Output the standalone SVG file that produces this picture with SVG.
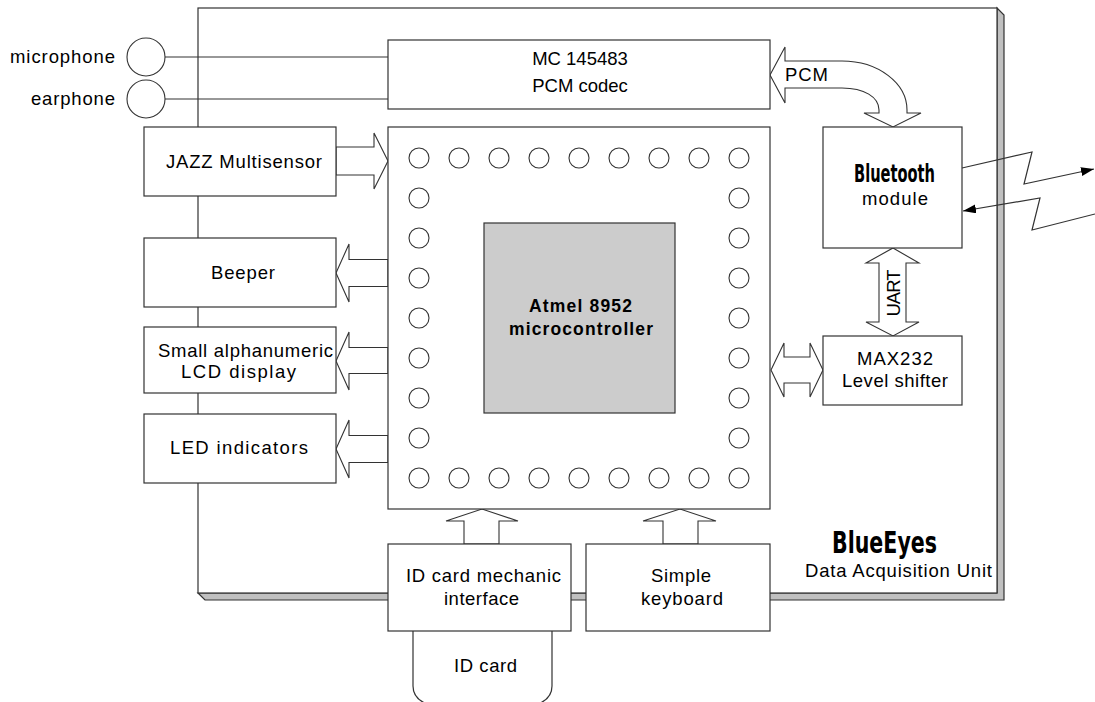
<svg xmlns="http://www.w3.org/2000/svg" width="1095" height="702" viewBox="0 0 1095 702">
<style>
.ln{fill:none;stroke:#333;stroke-width:1.2}
.bx{fill:#fff;stroke:#333;stroke-width:1.2}
.ar{fill:#fff;stroke:#333;stroke-width:1.1;stroke-linejoin:miter}
.pin{fill:#fff;stroke:#333;stroke-width:1.1}
.t{font-family:"Liberation Sans",Arial,sans-serif;font-size:18.5px;fill:#000}
.tb{font-family:"Liberation Sans",Arial,sans-serif;font-size:17.5px;font-weight:bold;fill:#000}
.imp{font-family:"DejaVu Sans Condensed","DejaVu Sans",sans-serif;font-weight:bold;fill:#000}
</style>
<defs>
<marker id="ah" markerUnits="userSpaceOnUse" markerWidth="14" markerHeight="10" refX="13" refY="4.5" orient="auto">
<path d="M0,0 L13,4.5 L0,9 z" fill="#000"/>
</marker>
</defs>
<rect width="1095" height="702" fill="#fff"/>

<g id="board">
<polygon points="997,8 1004,15 1004,600 205,600 198,593 997,593" fill="#c0c0c0" stroke="#333" stroke-width="1.2"/>
<rect x="198" y="8" width="799" height="585" class="bx"/>
<text class="imp" x="832" y="553" font-size="30" textLength="105" lengthAdjust="spacingAndGlyphs">BlueEyes</text>
<text class="t" x="805" y="577" textLength="187">Data Acquisition Unit</text>
</g>

<g id="connectors">
<line x1="165" y1="57" x2="388" y2="57" class="ln"/>
<line x1="165" y1="99" x2="388" y2="99" class="ln"/>
<polygon class="ar" points="336,147 374,147 374,133 388,161 374,189 374,175 336,175"/>
<polygon class="ar" points="388,259.5 349,259.5 349,244 336,273 349,302 349,286.5 388,286.5"/>
<polygon class="ar" points="388,347.5 349,347.5 349,332 336,361 349,390 349,373.5 388,373.5"/>
<polygon class="ar" points="388,435.5 349,435.5 349,420 336,449 349,478 349,462.5 388,462.5"/>
<polygon class="ar" points="464,544 464,521 446,521 482,509 518,521 499,521 499,544"/>
<polygon class="ar" points="663,544 663,521 643,521 680,509 716,521 698,521 698,544"/>
<polygon class="ar" points="893,248 919,263 906,263 906,322 919,322 893,336 866,322 879,322 879,263 866,263"/>
<polygon class="ar" points="771,370 784,343 784,357 810,357 810,343 823,370 810,397 810,383 784,383 784,397"/>
<path class="ar" d="M770,75 L785,47 L785,61 L842,61 C878,61 907,83 907,110 L907,113 L921,113 L893,127 L864,113 L879,113 L879,110 C879,97 864,88 842,88 L785,88 L785,103 Z"/>
<text class="t" x="785" y="81" textLength="43">PCM</text>
<text class="t" x="900" y="293" text-anchor="middle" transform="rotate(-90 900 293)" textLength="47">UART</text>
<polyline class="ln" points="962,168 1032,152 1024,184 1094,169" marker-end="url(#ah)"/>
<polyline class="ln" points="1095,214 1032,230 1040,198 963,211" marker-end="url(#ah)"/>
</g>

<g id="microphone">
<circle cx="146" cy="57" r="19" class="pin"/>
<text class="t" x="10" y="63" textLength="105">microphone</text>
</g>
<g id="earphone">
<circle cx="146" cy="99" r="19" class="pin"/>
<text class="t" x="31" y="105" textLength="84">earphone</text>
</g>

<g id="codec">
<rect x="388" y="40" width="382" height="69" class="bx"/>
<text class="t" x="580" y="65" text-anchor="middle" font-size="19.5">MC 145483</text>
<text class="t" x="580" y="92" text-anchor="middle" font-size="19">PCM codec</text>
</g>

<g id="jazz">
<rect x="144" y="127" width="192" height="69" class="bx"/>
<text class="t" x="166" y="168" textLength="156">JAZZ Multisensor</text>
</g>
<g id="beeper">
<rect x="144" y="238" width="192" height="69" class="bx"/>
<text class="t" x="211" y="279" textLength="64">Beeper</text>
</g>
<g id="lcd">
<rect x="144" y="327" width="192" height="66" class="bx"/>
<text class="t" x="158" y="357" textLength="175">Small alphanumeric</text>
<text class="t" x="181" y="378" textLength="115">LCD display</text>
</g>
<g id="led">
<rect x="144" y="414" width="192" height="69" class="bx"/>
<text class="t" x="170" y="454" textLength="138">LED indicators</text>
</g>

<g id="mcu">
<rect x="388" y="127" width="382" height="382" class="bx"/>
<g class="pin">
<circle cx="419" cy="158" r="10"/><circle cx="459" cy="158" r="10"/><circle cx="499" cy="158" r="10"/><circle cx="539" cy="158" r="10"/><circle cx="579" cy="158" r="10"/><circle cx="619" cy="158" r="10"/><circle cx="659" cy="158" r="10"/><circle cx="699" cy="158" r="10"/><circle cx="739" cy="158" r="10"/>
<circle cx="419" cy="478" r="10"/><circle cx="459" cy="478" r="10"/><circle cx="499" cy="478" r="10"/><circle cx="539" cy="478" r="10"/><circle cx="579" cy="478" r="10"/><circle cx="619" cy="478" r="10"/><circle cx="659" cy="478" r="10"/><circle cx="699" cy="478" r="10"/><circle cx="739" cy="478" r="10"/>
<circle cx="419" cy="198" r="10"/><circle cx="419" cy="238" r="10"/><circle cx="419" cy="278" r="10"/><circle cx="419" cy="318" r="10"/><circle cx="419" cy="358" r="10"/><circle cx="419" cy="398" r="10"/><circle cx="419" cy="438" r="10"/>
<circle cx="739" cy="198" r="10"/><circle cx="739" cy="238" r="10"/><circle cx="739" cy="278" r="10"/><circle cx="739" cy="318" r="10"/><circle cx="739" cy="358" r="10"/><circle cx="739" cy="398" r="10"/><circle cx="739" cy="438" r="10"/>
</g>
<rect x="484" y="223" width="191" height="190" fill="#cccccc" stroke="#333" stroke-width="1.2"/>
<text class="tb" x="529" y="312" textLength="103">Atmel 8952</text>
<text class="tb" x="509" y="335" textLength="144">microcontroller</text>
</g>

<g id="bluetooth">
<rect x="823" y="127" width="139" height="121" class="bx"/>
<text class="imp" x="854" y="182" font-size="25" textLength="81" lengthAdjust="spacingAndGlyphs">Bluetooth</text>
<text class="t" x="862" y="205" textLength="66">module</text>
</g>

<g id="max232">
<rect x="823" y="336" width="139" height="69" class="bx"/>
<text class="t" x="857" y="365" textLength="76">MAX232</text>
<text class="t" x="842" y="387" textLength="106">Level shifter</text>
</g>

<g id="idcard">
<path class="bx" d="M413,631 L413,686 C413,696 420,702 430,705 L535,705 C545,702 552,696 552,686 L552,631"/>
<text class="t" x="454" y="672" textLength="63">ID card</text>
</g>
<g id="idmech">
<rect x="388" y="544" width="183" height="87" class="bx"/>
<text class="t" x="406" y="582" textLength="155">ID card mechanic</text>
<text class="t" x="444" y="605" textLength="75">interface</text>
</g>
<g id="keyboard">
<rect x="586" y="544" width="184" height="87" class="bx"/>
<text class="t" x="651" y="582" textLength="60">Simple</text>
<text class="t" x="641" y="605" textLength="82">keyboard</text>
</g>
</svg>
